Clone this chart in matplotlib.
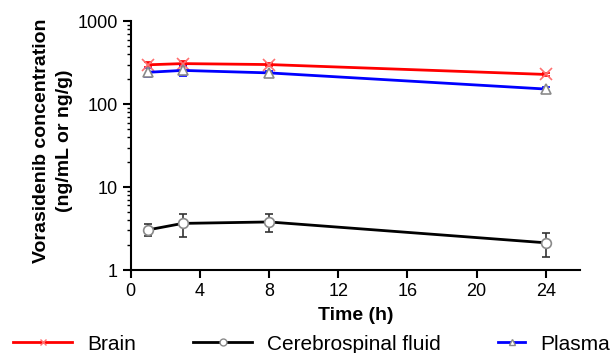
import matplotlib.pyplot as plt
from matplotlib.lines import Line2D
from matplotlib.ticker import FixedLocator, LogLocator, NullFormatter

plt.rcParams['font.family'] = ['Liberation Sans', 'DejaVu Sans']

time_h = [1, 3, 8, 24]
brain = [298, 308, 300, 228]
brain_sd = [20, 22, 12, 10]
csf = [3.05, 3.65, 3.8, 2.13]
csf_sd = [0.5, 1.15, 0.92, 0.7]
plasma = [242, 255, 238, 152]
plasma_sd = [28, 35, 12, 8]

x_ticks = [0, 4, 8, 12, 16, 20, 24]
y_ticks = [1, 10, 100, 1000]

fig = plt.figure(figsize=(6.11, 3.53), dpi=100)
ax = fig.add_axes([0.214, 0.235, 0.736, 0.705])

marker_col = '#8a8a8a'
ax.errorbar(time_h, brain, yerr=brain_sd, color='red', lw=2, marker='x',
            ms=8, mec='#ff7070', mew=1.2, capsize=3, elinewidth=1.2,
            zorder=3)
ax.errorbar(time_h, csf, yerr=csf_sd, color='black', lw=2, marker='o',
            ms=7, mfc='white', mec=marker_col, mew=1.2, ecolor='#333333',
            capsize=3, elinewidth=1.2, zorder=3)
ax.errorbar(time_h, plasma, yerr=plasma_sd, color='blue', lw=2, marker='^',
            ms=7, mfc='white', mec=marker_col, mew=1.2, capsize=3,
            elinewidth=1.2, zorder=3)

ax.set_yscale('log')
ax.set_ylim(1, 1000)
ax.set_xlim(0, 26)
ax.xaxis.set_major_locator(FixedLocator(x_ticks))
ax.yaxis.set_major_locator(FixedLocator(y_ticks))
ax.set_yticklabels([str(v) for v in y_ticks])
ax.yaxis.set_minor_locator(LogLocator(base=10, subs=range(2, 10)))
ax.yaxis.set_minor_formatter(NullFormatter())

for side in ('top', 'right'):
    ax.spines[side].set_visible(False)
for side in ('left', 'bottom'):
    ax.spines[side].set_linewidth(1.5)
ax.tick_params(axis='both', which='major', direction='out', length=6,
               width=1.5, labelsize=13)
ax.tick_params(axis='y', which='minor', direction='out', length=3, width=1)

ax.set_xlabel('Time (h)', fontsize=14, fontweight='bold', labelpad=5)
ax.set_ylabel('Vorasidenib concentration\n(ng/mL or ng/g)', fontsize=14,
              fontweight='bold', linespacing=1.45)
ax.yaxis.set_label_coords(-0.128, 0.52)

# legend entries laid out one by one along the bottom edge
entries = [
    ('Brain', 'red', 'x', '#ff7070', 13, 2.84),
    ('Cerebrospinal fluid', 'black', 'o', marker_col, 193, 2.84),
    ('Plasma', 'blue', '^', marker_col, 498, 1.3),
]
for label, col, mk, mc, x_px, hlen in entries:
    h = Line2D([], [], color=col, lw=2, marker=mk, ms=5, mfc='white',
               mec=mc, mew=1)
    fig.legend([h], [label], loc='center left',
               bbox_to_anchor=(x_px / 611, 1 - 344 / 353), frameon=False,
               fontsize=15, handlelength=hlen, handletextpad=0.72,
               borderpad=0, borderaxespad=0)

fig.savefig('out.png', dpi=100)
